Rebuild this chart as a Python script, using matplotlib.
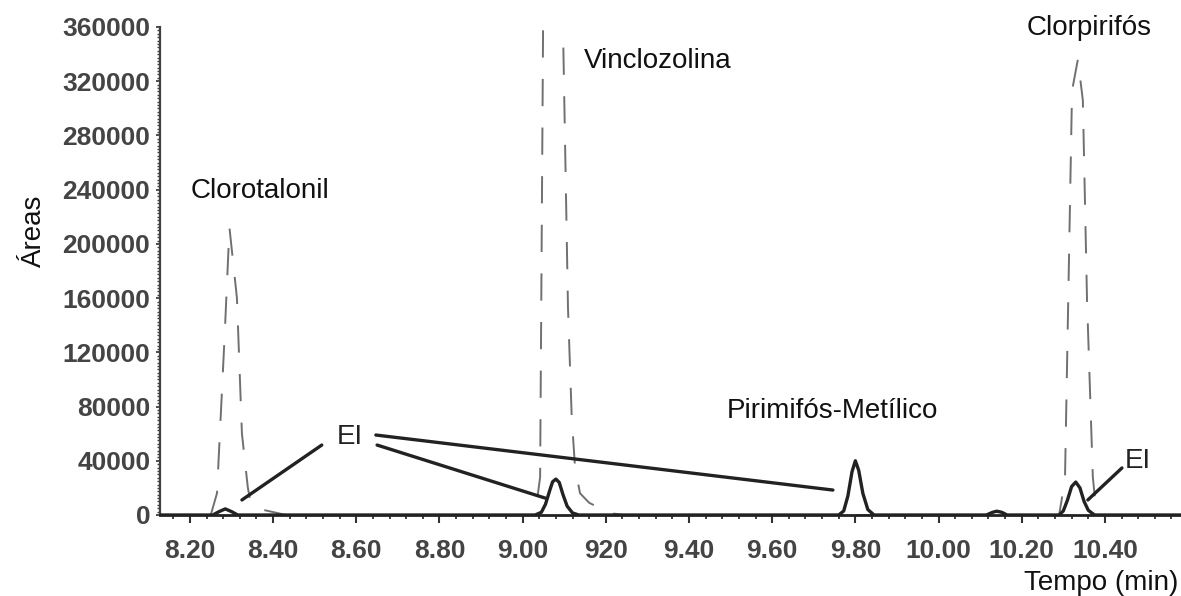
import matplotlib
matplotlib.use("Agg")
import matplotlib.pyplot as plt
from matplotlib.ticker import MultipleLocator, FixedLocator

plt.rcParams['font.family'] = ['Liberation Sans', 'DejaVu Sans']

# ---- data ----
# dashed grey trace (tall peaks)
dashed_t = [8.128, 8.250, 8.265, 8.284, 8.295, 8.313, 8.325, 8.339, 8.344, 8.36, 8.38, 8.41, 8.43,
            9.030, 9.042, 9.050, 9.073, 9.095, 9.097, 9.109, 9.118, 9.126, 9.138, 9.16, 9.186, 9.21, 9.24,
            10.290, 10.304, 10.321, 10.335, 10.347, 10.357, 10.371, 10.380, 10.583]
dashed_a = [0, 0, 16000, 136000, 212000, 160000, 60000, 20700, 12000, 4000, 3500, 1500, 0,
            0, 28000, 400000, 450000, 400000, 360000, 153000, 72000, 35000, 16000, 9000, 5000, 1500, 0,
            0, 26000, 313000, 336000, 306000, 159000, 28000, 0, 0]

# solid black trace (EI peaks)
solid_t = [8.128, 8.255, 8.270, 8.285, 8.300, 8.315,
           9.030, 9.045, 9.055, 9.065, 9.072, 9.080, 9.088, 9.097, 9.107, 9.120, 9.135,
           9.760, 9.772, 9.782, 9.792, 9.800, 9.808, 9.818, 9.830, 9.845,
           10.115, 10.130, 10.140, 10.152, 10.165,
           10.290, 10.300, 10.310, 10.320, 10.330, 10.340, 10.350, 10.360, 10.375, 10.583]
solid_a = [0, 0, 2500, 4500, 2500, 0,
           0, 2000, 8000, 18000, 24500, 26500, 24000, 15000, 6500, 1500, 0,
           0, 3000, 14000, 32000, 40000, 33000, 16000, 4000, 0,
           0, 2000, 2800, 2000, 0,
           0, 3000, 11000, 21000, 24300, 20000, 10000, 3500, 0, 0]

x_ticks = [8.20, 8.40, 8.60, 8.80, 9.00, 9.20, 9.40, 9.60, 9.80, 10.00, 10.20, 10.40]
x_labels = ['8.20', '8.40', '8.60', '8.80', '9.00', '920', '9.40', '9.60', '9.80', '10.00', '10.20', '10.40']
y_ticks = [0, 40000, 80000, 120000, 160000, 200000, 240000, 280000, 320000, 360000]

compounds = ['Clorotalonil', 'Vinclozolina', 'Pirimifós-Metílico', 'Clorpirifós']
compound_pos = [(8.368, 239000), (9.325, 335000), (9.746, 76700), (10.362, 359000)]

# ---- figure ----
fig = plt.figure(figsize=(11.81, 5.96), dpi=100)
ax = fig.add_axes([160/1181, 1 - 515/596, 1 - 160/1181, (515 - 27)/596])

dl, = ax.plot(dashed_t, dashed_a, color='#707070', lw=1.4, zorder=2)
dl.set_dashes([14, 11])
ax.plot(solid_t, solid_a, color='#222222', lw=2.4, zorder=3)

ax.set_xlim(8.128, 10.583)
ax.set_ylim(0, 360000)

ax.spines['top'].set_visible(False)
ax.spines['right'].set_visible(False)
ax.spines['left'].set_color('#404040')
ax.spines['left'].set_linewidth(1.6)
ax.spines['bottom'].set_color('#222222')
ax.spines['bottom'].set_linewidth(2.0)

ax.xaxis.set_major_locator(FixedLocator(x_ticks))
ax.set_xticklabels(x_labels)
ax.xaxis.set_minor_locator(MultipleLocator(0.04))
ax.yaxis.set_major_locator(FixedLocator(y_ticks))
ax.set_yticklabels([str(v) for v in y_ticks])
ax.yaxis.set_minor_locator(MultipleLocator(2500))

ax.tick_params(axis='x', which='major', direction='out', length=6, width=1.5,
               color='#333333', pad=11, labelsize=19, labelcolor='#444444')
ax.tick_params(axis='x', which='minor', direction='out', length=3, width=1.3, color='#333333')
ax.tick_params(axis='y', which='major', direction='out', length=3, width=1.3,
               color='#404040', pad=4, labelsize=19, labelcolor='#444444')
ax.tick_params(axis='y', which='minor', direction='out', length=2.5, width=1.0, color='#404040')
for lab in ax.get_xticklabels() + ax.get_yticklabels():
    lab.set_fontweight('bold')

# compound labels
for name, (tx, ty) in zip(compounds, compound_pos):
    ax.text(tx, ty, name, fontsize=20, ha='center', va='center', color='#111111')

# EI annotations
line_kw = dict(arrowstyle='-', color='#222222', lw=2.4, shrinkA=0, shrinkB=0)
ax.text(8.585, 57500, 'EI', fontsize=20, ha='center', va='center', color='#222222')
ax.annotate('', xy=(8.325, 11100), xytext=(8.517, 51600), arrowprops=line_kw)
ax.annotate('', xy=(9.746, 18400), xytext=(8.647, 59000), arrowprops=line_kw)
ax.annotate('', xy=(9.054, 12500), xytext=(8.650, 51600), arrowprops=line_kw)
ax.text(10.48, 40000, 'EI', fontsize=20, ha='center', va='center', color='#222222')
ax.annotate('', xy=(10.359, 11100), xytext=(10.441, 34700), arrowprops=line_kw)

fig.text(1178/1181, 1 - 583/596, 'Tempo (min)', fontsize=20, ha='right', va='center', color='#111111')
fig.text(34/1181, 1 - 231/596, 'Áreas', fontsize=20, ha='center', va='center', rotation=90, color='#111111')

fig.savefig('out.png', dpi=100)
